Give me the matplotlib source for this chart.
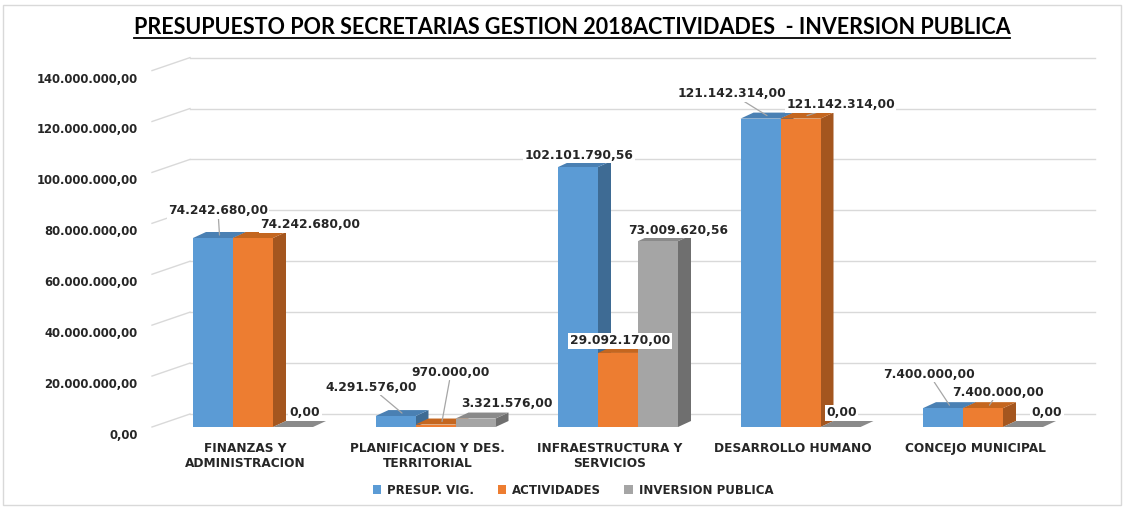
import numpy as np
import matplotlib.pyplot as plt
from matplotlib.patches import Polygon, Rectangle
from matplotlib.lines import Line2D
import matplotlib.transforms as mtransforms

# datos
categorias = ['FINANZAS Y\nADMINISTRACION', 'PLANIFICACION Y DES.\nTERRITORIAL',
              'INFRAESTRUCTURA Y\nSERVICIOS', 'DESARROLLO HUMANO', 'CONCEJO MUNICIPAL']
presup_vig = [74242680.00, 4291576.00, 102101790.56, 121142314.00, 7400000.00]
actividades = [74242680.00, 970000.00, 29092170.00, 121142314.00, 7400000.00]
inversion_publica = [0.00, 3321576.00, 73009620.56, 0.00, 0.00]
nombres = ['PRESUP. VIG.', 'ACTIVIDADES', 'INVERSION PUBLICA']
y_ticks = np.arange(0, 140000001, 20000000)

series = [presup_vig, actividades, inversion_publica]
col_frente = ['#5b9bd5', '#ed7d31', '#a5a5a5']
col_lado = ['#3e6b94', '#a4561f', '#6f6f6f']
col_arriba = ['#4a80b3', '#c4661f', '#8a8a8a']

# posicion de las etiquetas (pixeles desde la cima de la barra) y si llevan linea guia
etq_off = [[(-1.5, 24), (-31, 26), (-5.5, 9), (-35.5, 22), (-20.5, 31)],
           [(51, 10), (9, 49), (-4.5, 9), (33.5, 11), (8.5, 13)],
           [(5.5, 12), (25, 12), (13.5, 8), (-5.5, 11), (17.5, 11)]]
etq_guia = [[True, True, False, True, True],
            [False, True, False, True, True],
            [False, False, False, False, False]]

texto = '#262626'
grid_c = '#d9d9d9'


def formato(v):
    s = f'{v:,.2f}'
    return s.replace(',', 'X').replace('.', ',').replace('X', '.')


W, H = 1125, 507
fig = plt.figure(figsize=(W / 100, H / 100), dpi=100)
fig.patch.set_facecolor('white')
fig.add_artist(Rectangle((3 / W, 1 - 505 / H), 1118 / W, 500 / H, transform=fig.transFigure,
                         fill=False, ec=grid_c, lw=1))

izq, der, abajo, arriba = 152, 1057, 427, 70.6
ax = fig.add_axes([izq / W, 1 - abajo / H, (der - izq) / W, (abajo - arriba) / H])
paso = 182.5
x0 = 253
ax.set_xlim((izq - x0) / paso, (der - x0) / paso)
ax.set_ylim(0, 140000000)
for s in ax.spines.values():
    s.set_visible(False)

px_x = paso
px_y = (abajo - arriba) / 140000000

# pared del fondo
pdx, pdy = 38 / px_x, 13 / px_y
xl = ax.get_xlim()[0]
for v in y_ticks:
    ax.add_line(Line2D([xl, xl + pdx], [v, v + pdy], color=grid_c, lw=1, clip_on=False, zorder=0))
    ax.add_line(Line2D([xl + pdx, (1095 - x0) / paso], [v + pdy, v + pdy], color=grid_c, lw=1,
                       clip_on=False, zorder=0))

# barras 3D
ancho = 40 / paso
bdx, bdy = 13 / px_x, 6 / px_y
z = 2
for i in range(len(categorias)):
    for j, serie in enumerate(series):
        v = serie[i]
        x = i + (j - 1.5) * ancho
        lado = [(x + ancho, 0), (x + ancho + bdx, bdy), (x + ancho + bdx, v + bdy), (x + ancho, v)]
        tapa = [(x, v), (x + bdx, v + bdy), (x + ancho + bdx, v + bdy), (x + ancho, v)]
        ax.add_patch(Polygon(lado, closed=True, fc=col_lado[j], ec='none', zorder=z, clip_on=False))
        ax.add_patch(Polygon(tapa, closed=True, fc=col_arriba[j], ec='none', zorder=z, clip_on=False))
        ax.bar(x, v, width=ancho, align='edge', color=col_frente[j], zorder=z + 0.5, clip_on=False)
        z += 1

# etiquetas de datos
for j, serie in enumerate(series):
    for i, v in enumerate(serie):
        xc = i + (j - 1) * ancho
        ap = None
        if etq_guia[j][i]:
            ap = dict(arrowstyle='-', color='#a6a6a6', lw=0.9, shrinkA=0, shrinkB=0)
        ax.annotate(formato(v), xy=(xc + bdx / 2, v + bdy / 2), xytext=etq_off[j][i],
                    textcoords='offset pixels', ha='center', va='center', fontsize=8.8,
                    fontweight='bold', color=texto, zorder=100, annotation_clip=False,
                    bbox=dict(boxstyle='square,pad=0.12', fc='white', ec='none'),
                    arrowprops=ap)

# ejes
ax.set_yticks(y_ticks)
ax.set_yticklabels([formato(v) for v in y_ticks], fontsize=8.4, fontweight='bold', color=texto)
ax.set_xticks(np.arange(len(categorias)) - 8 / paso)
ax.set_xticklabels(categorias, fontsize=8.7, fontweight='bold', color=texto, linespacing=1.15)
ax.tick_params(axis='both', length=0)
ax.tick_params(axis='y', pad=10.5)
ax.tick_params(axis='x', pad=11)
baja = mtransforms.ScaledTranslation(0, -5 / 72, fig.dpi_scale_trans)
for lab in ax.get_yticklabels():
    lab.set_transform(lab.get_transform() + baja)

# leyenda
manos = [Rectangle((0, 0), 1, 1, fc=c, ec='none') for c in col_frente]
fig.legend(manos, nombres, loc='center', bbox_to_anchor=(573 / W, 1 - 490 / H), ncol=3,
           frameon=False, handlelength=0.7, handleheight=0.7, handletextpad=0.5,
           columnspacing=2.0, prop=dict(size=8.5, weight='bold'), labelcolor=texto)

# titulo subrayado
tit = fig.text(572 / W, 1 - 27 / H, 'PRESUPUESTO POR SECRETARIAS GESTION 2018ACTIVIDADES  - INVERSION PUBLICA',
               ha='center', va='center', fontsize=15.5, fontweight='bold', family='Lato', color='black')
fig.canvas.draw()
bb = tit.get_window_extent()
fig.add_artist(Line2D([bb.x0 / W, bb.x1 / W], [1 - 38 / H, 1 - 38 / H], transform=fig.transFigure,
                      color='black', lw=1.3))

fig.savefig('out.png', dpi=100)
